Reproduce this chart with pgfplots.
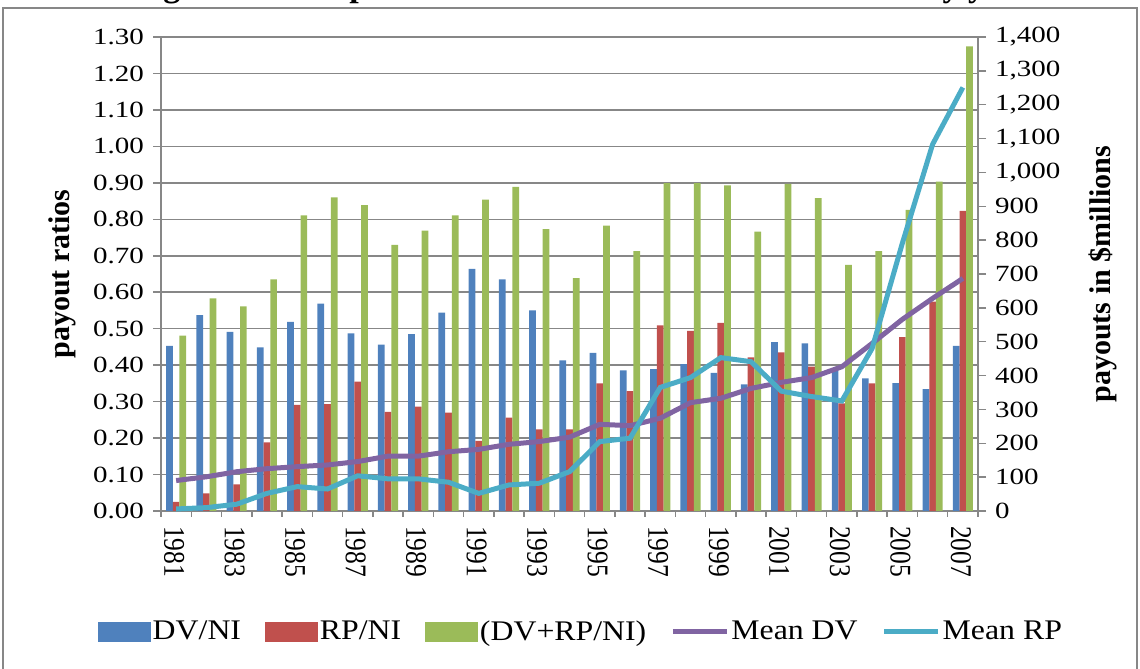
\documentclass[border=0pt]{standalone}
\usepackage{fontspec}
\setmainfont{Liberation Serif}
\newfontfamily\tickfont{Liberation Serif}[FakeStretch=1.25]
\newfontfamily\rotfont{Liberation Serif}[FakeStretch=0.85]
\newfontfamily\legfont{Liberation Serif}[FakeStretch=1.12]
\usepackage{pgfplots}
\usepackage{pgfplotstable}
\pgfplotsset{compat=1.18}
\definecolor{cBlue}{HTML}{4F81BD}
\definecolor{cRed}{HTML}{C0504D}
\definecolor{cGreen}{HTML}{9BBB59}
\definecolor{cPurple}{HTML}{8064A2}
\definecolor{cTeal}{HTML}{4BACC6}
\definecolor{cGrid}{HTML}{878787}

\pgfplotstableread{
x dv rp tot mdv mrp
0 0.453 0.025 0.481 90 6
1 0.537 0.048 0.583 101 10
2 0.491 0.073 0.561 116 20
3 0.449 0.188 0.635 125 52
4 0.519 0.291 0.811 131 72
5 0.569 0.293 0.860 136 65
6 0.487 0.355 0.839 146 104
7 0.456 0.272 0.730 162 95
8 0.485 0.286 0.769 162 95
9 0.544 0.270 0.811 175 85
10 0.664 0.192 0.854 182 52
11 0.635 0.256 0.889 197 77
12 0.550 0.224 0.773 205 82
13 0.413 0.224 0.639 218 116
14 0.434 0.350 0.783 256 205
15 0.386 0.329 0.713 252 215
16 0.389 0.509 0.899 274 365
17 0.403 0.494 0.899 320 394
18 0.379 0.516 0.893 333 453
19 0.347 0.421 0.766 362 441
20 0.463 0.435 0.897 380 354
21 0.460 0.396 0.858 394 338
22 0.385 0.295 0.675 426 325
23 0.364 0.350 0.713 495 480
24 0.351 0.477 0.826 566 791
25 0.334 0.574 0.903 628 1083
26 0.453 0.823 1.274 687 1251
}\datatable

\begin{document}
\begin{tikzpicture}
\useasboundingbox (0,0) rectangle (570pt,334.5pt);
\clip (0,0) rectangle (570pt,334.5pt);
% partially visible title (cut off at the top, as in the reference)
\node[anchor=base, font=\bfseries\fontsize{17}{19}\selectfont] at (272pt,336.4pt)
  {Ranking firms: companies in the S\&P 500 index in Canada by year};
% outer frame
\draw[cGrid, line width=1pt] (1.5pt,-10pt) -- (1.5pt,330.5pt) -- (568.5pt,330.5pt) -- (568.5pt,-10pt);

\begin{axis}[
  at={(80.5pt,79pt)}, anchor=south west,
  scale only axis, width=408.5pt, height=237pt,
  xmin=-0.5, xmax=26.5, ymin=0, ymax=1.30,
  axis line style={cGrid, line width=0.75pt},
  axis x line*=bottom, axis y line*=left,
  tick align=outside,
  ytick={0,0.1,0.2,0.3,0.4,0.5,0.6,0.7,0.8,0.9,1.0,1.1,1.2,1.3},
  yticklabels={0.00,0.10,0.20,0.30,0.40,0.50,0.60,0.70,0.80,0.90,1.00,1.10,1.20,1.30},
  ymajorgrids,
  major grid style={cGrid, line width=0.75pt},
  major y tick style={cGrid, line width=0.75pt},
  major tick length=4pt,
  xtick={0,2,...,26},
  xticklabels={1981,1983,1985,1987,1989,1991,1993,1995,1997,1999,2001,2003,2005,2007},
  major x tick style={draw=none},
  minor xtick={-0.5,0.5,...,26.5},
  minor x tick style={cGrid, line width=0.75pt},
  minor tick length=3pt,
  yticklabel style={font=\tickfont\fontsize{11.6}{13}\selectfont, xshift=-1pt},
  xticklabel style={font=\rotfont\fontsize{15}{17}\selectfont, rotate=-90, anchor=west, yshift=-1pt},
  ylabel={payout ratios},
  every axis y label/.style={at={(axis description cs:-0.121,0.5)}, rotate=90, anchor=center,
    font=\bfseries\fontsize{15}{17}\selectfont},
  clip=false,
]
\addplot[ybar, bar width=0.222, bar shift=-0.222, fill=cBlue, draw=none] table[x=x,y=dv] {\datatable};
\addplot[ybar, bar width=0.222, bar shift=0, fill=cRed, draw=none] table[x=x,y=rp] {\datatable};
\addplot[ybar, bar width=0.222, bar shift=0.222, fill=cGreen, draw=none] table[x=x,y=tot] {\datatable};
\end{axis}

\begin{axis}[
  at={(80.5pt,79pt)}, anchor=south west,
  scale only axis, width=408.5pt, height=237pt,
  xmin=-0.5, xmax=26.5, ymin=0, ymax=1400,
  axis x line=none, axis y line*=right,
  axis line style={cGrid, line width=0.75pt},
  tick align=outside,
  major tick length=4pt,
  major y tick style={cGrid, line width=0.75pt},
  ytick={0,100,200,300,400,500,600,700,800,900,1000,1100,1200,1300,1400},
  yticklabels={0,100,200,300,400,500,600,700,800,900,{1,000},{1,100},{1,200},{1,300},{1,400}},
  yticklabel style={font=\tickfont\fontsize{11.6}{13}\selectfont, xshift=1pt},
  ylabel={payouts in \$millions},
  every axis y label/.style={at={(axis description cs:1.153,0.5)}, rotate=90, anchor=center,
    font=\bfseries\fontsize{15}{17}\selectfont},
  legend columns=5,
  legend style={at={(axis description cs:0.514,-0.255)}, anchor=center, draw=none, fill=none,
    font=\legfont\fontsize{14.2}{16}\selectfont, inner sep=0pt,
    /tikz/every even column/.append style={column sep=11pt},
    nodes={inner sep=1pt}},
  clip=false,
]
\addlegendimage{legend image code/.code={\fill[cBlue] (0pt,-4.75pt) rectangle (26pt,4.75pt);}}
\addlegendentry{DV/NI}
\addlegendimage{legend image code/.code={\fill[cRed] (0pt,-4.75pt) rectangle (26pt,4.75pt);}}
\addlegendentry{RP/NI}
\addlegendimage{legend image code/.code={\fill[cGreen] (0pt,-4.75pt) rectangle (26pt,4.75pt);}}
\addlegendentry{(DV+RP/NI)}
\addplot[cPurple, line width=2.5pt, sharp plot, no markers,
  legend image code/.code={\draw[cPurple, line width=2.5pt] (0pt,0pt) -- (27pt,0pt);}]
  table[x=x,y=mdv] {\datatable};
\addlegendentry{Mean DV}
\addplot[cTeal, line width=2.5pt, sharp plot, no markers,
  legend image code/.code={\draw[cTeal, line width=2.5pt] (0pt,0pt) -- (27pt,0pt);}]
  table[x=x,y=mrp] {\datatable};
\addlegendentry{Mean RP}
\end{axis}
\end{tikzpicture}
\end{document}
